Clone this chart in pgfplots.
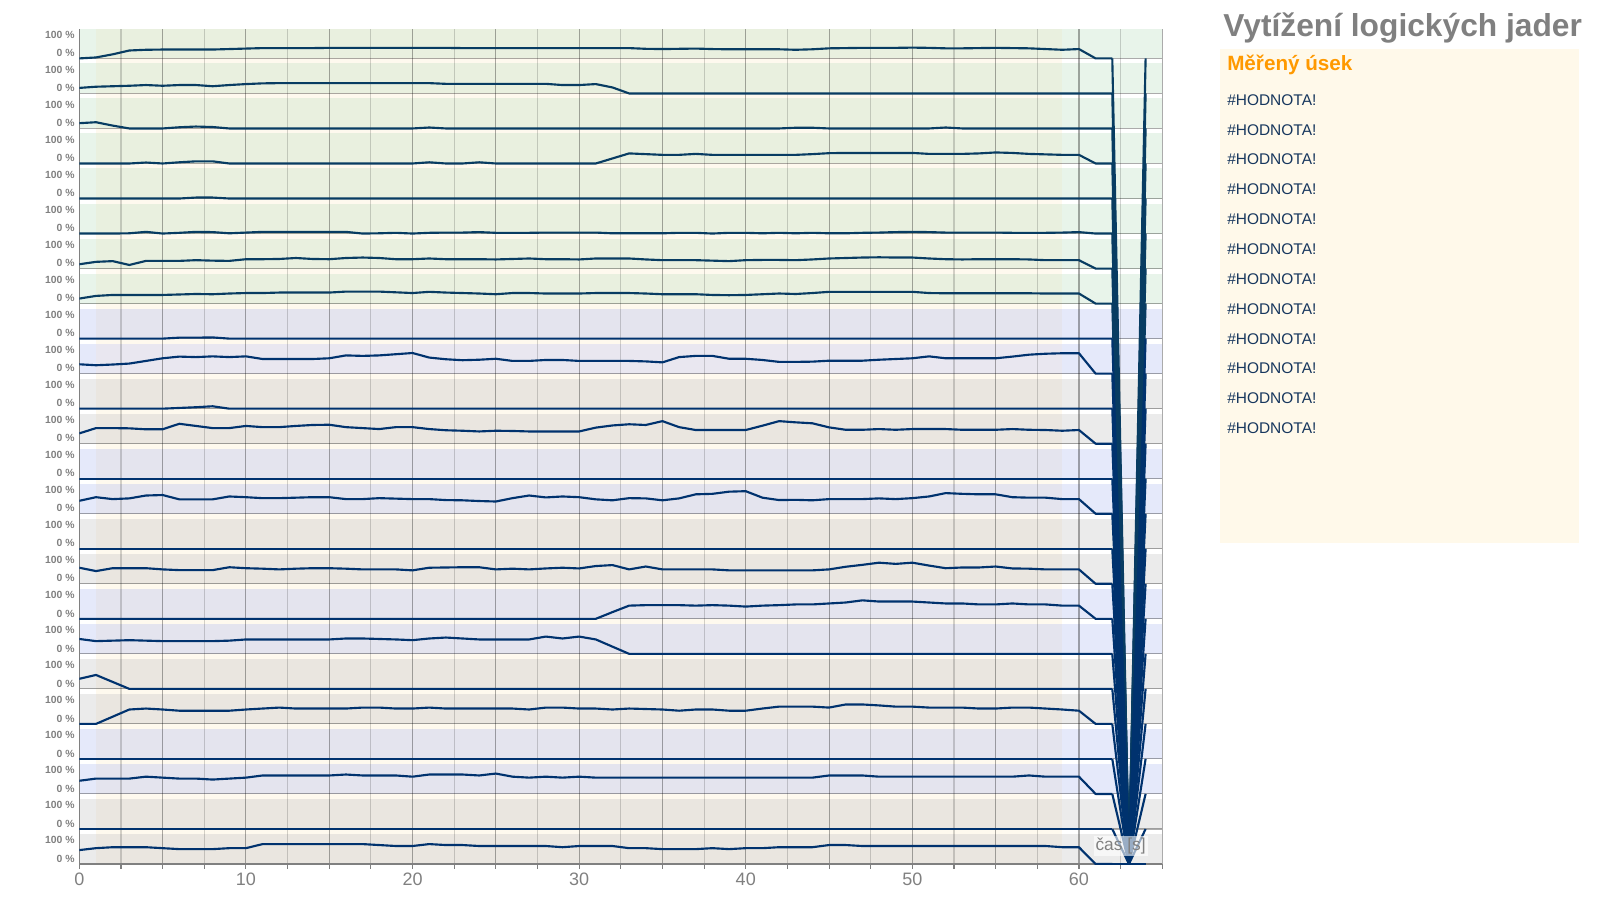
\documentclass[border=0pt]{standalone}
\usepackage{pgfplots}
\pgfplotsset{compat=1.18}
\usepackage{fontspec}
\setmainfont{Liberation Sans}
\definecolor{lnA}{RGB}{8,60,98}
\definecolor{lnB}{RGB}{0,50,110}
\definecolor{bgG}{RGB}{233,240,223}
\definecolor{bgGe}{RGB}{232,244,234}
\definecolor{bgL}{RGB}{228,228,238}
\definecolor{bgLtwo}{RGB}{233,231,240}
\definecolor{bgLe}{RGB}{229,233,250}
\definecolor{bgB}{RGB}{234,230,224}
\definecolor{bgBe}{RGB}{235,235,235}
\definecolor{strip}{RGB}{254,249,238}
\definecolor{txtgray}{RGB}{128,128,128}
\definecolor{boxbg}{RGB}{255,249,234}
\definecolor{orng}{RGB}{255,153,0}
\definecolor{navy}{RGB}{23,55,94}
% dense series: one value per second, 0..62
\newcommand{\cpu}[3]{%
  \addplot[#2, line width=1.6pt, line join=round]
    table[x expr=\coordindex, y expr={#1+0.00685*\thisrow{v}}, row sep=\\]{v\\#3\\};
  \addplot[#2, line width=1.6pt, line join=round] coordinates {(62,#1) (63,0) (64,#1)};
}
% sparse series given as (time, percent)
\newcommand{\cpuc}[3]{%
  \addplot[#2, line width=1.6pt, line join=round, y filter/.expression={#1+0.00685*y}] coordinates {#3};
  \addplot[#2, line width=1.6pt, line join=round] coordinates {(62,#1) (63,0) (64,#1)};
}
\begin{document}
\begin{tikzpicture}
\begin{axis}[
  at={(59.5pt,24.75pt)}, anchor=south west,
  scale only axis, width=812.2pt, height=626.25pt,
  set layers,
  xmin=0, xmax=65, ymin=0, ymax=23.84,
  axis x line*=bottom, axis y line*=left,
  axis line style={draw=txtgray, line width=0.9pt, -},
  xtick={0,5,...,65}, xticklabels={0,,10,,20,,30,,40,,50,,60,},
  minor xtick={2.5,7.5,...,62.5},
  xmajorgrids, xminorgrids,
  tick align=outside, major tick length=3.5pt, minor tick length=3.5pt,
  tick style={draw=txtgray, line width=0.8pt},
  ytick={0,...,23}, yticklabels={}, ymajorgrids,
  ytick style={draw=none},
  extra y ticks={0.154,0.685,1.154,1.685,2.154,2.685,3.154,3.685,4.154,4.685,5.154,5.685,6.154,6.685,7.154,7.685,8.154,8.685,9.154,9.685,10.154,10.685,11.154,11.685,12.154,12.685,13.154,13.685,14.154,14.685,15.154,15.685,16.154,16.685,17.154,17.685,18.154,18.685,19.154,19.685,20.154,20.685,21.154,21.685,22.154,22.685,23.154,23.685},
  extra y tick labels={0 \%,100 \%,0 \%,100 \%,0 \%,100 \%,0 \%,100 \%,0 \%,100 \%,0 \%,100 \%,0 \%,100 \%,0 \%,100 \%,0 \%,100 \%,0 \%,100 \%,0 \%,100 \%,0 \%,100 \%,0 \%,100 \%,0 \%,100 \%,0 \%,100 \%,0 \%,100 \%,0 \%,100 \%,0 \%,100 \%,0 \%,100 \%,0 \%,100 \%,0 \%,100 \%,0 \%,100 \%,0 \%,100 \%,0 \%,100 \%},
  extra y tick style={grid=none, major tick length=0pt},
  major grid style={draw=black, opacity=0.33, line width=0.8pt},
  minor grid style={draw=black, opacity=0.17, line width=0.8pt},
  xticklabel style={font=\fontsize{13.5}{14}\selectfont, text=txtgray},
  yticklabel style={font=\bfseries\fontsize{7.8}{8}\selectfont, text=txtgray},
]
\begin{pgfonlayer}{axis background}
  \fill[bgG] (axis cs:1,16) rectangle (axis cs:59,23.84);
  \fill[bgGe] (axis cs:0,16) rectangle (axis cs:1,23.84);
  \fill[bgGe] (axis cs:59,16) rectangle (axis cs:65,23.84);
  \pgfplotsinvokeforeach{14,10,6,2}{
    \fill[bgL] (axis cs:1,#1) rectangle (axis cs:59,{#1+2});
    \fill[bgLe] (axis cs:0,#1) rectangle (axis cs:1,{#1+2});
    \fill[bgLe] (axis cs:59,#1) rectangle (axis cs:65,{#1+2});
  }
  \pgfplotsinvokeforeach{12,8,4,0}{
    \fill[bgB] (axis cs:1,#1) rectangle (axis cs:59,{#1+2});
    \fill[bgBe] (axis cs:0,#1) rectangle (axis cs:1,{#1+2});
    \fill[bgBe] (axis cs:59,#1) rectangle (axis cs:65,{#1+2});
  }
  \fill[bgLtwo] (axis cs:1,14) rectangle (axis cs:59,14.857);
  \pgfplotsinvokeforeach{0,...,22}{
    \fill[strip] (axis cs:1,{#1+0.857}) rectangle (axis cs:59,{#1+1});
    \fill[white] (axis cs:0,{#1+0.857}) rectangle (axis cs:1,{#1+1});
    \fill[white] (axis cs:59,{#1+0.857}) rectangle (axis cs:65,{#1+1});
  }
\end{pgfonlayer}
% row 1
\cpu{23}{lnA}{0\\4\\17\\33\\36\\37\\37\\37\\37\\39\\41\\43\\43\\43\\43\\44\\44\\44\\44\\44\\44\\44\\44\\43\\43\\43\\43\\43\\43\\43\\43\\43\\43\\43\\40\\39\\40\\41\\39\\38\\38\\38\\38\\36\\38\\42\\43\\44\\44\\44\\45\\44\\42\\42\\43\\44\\43\\42\\39\\36\\39\\0\\0}
% row 2
\cpuc{22}{lnA}{(0,23) (1,28) (2,30) (3,32) (4,35) (5,32) (6,35) (7,35) (8,30) (9,35) (10,39) (11,42) (12,43) (21,43) (22,40) (28,40) (29,35) (30,35) (31,39) (32,25) (33,0) (62,0)}
% row 3
\cpuc{21}{lnA}{(0,22) (1,26) (2,12) (3,0) (5,0) (6,5) (7,8) (8,6) (9,0) (20,0) (21,4) (22,0) (42,0) (43,3) (44,3) (45,0) (51,0) (52,4) (53,0) (62,0)}
% row 4
\cpuc{20}{lnA}{(0,0) (3,0) (4,4) (5,0) (6,5) (7,9) (8,9) (9,0) (20,0) (21,5) (22,0) (23,0) (24,5) (25,0) (31,0) (32,21) (33,42) (34,39) (35,36) (36,36) (37,40) (38,36) (43,36) (44,39) (45,43) (46,44) (50,44) (51,40) (53,40) (54,42) (55,46) (56,44) (57,40) (58,38) (59,36) (60,36) (61,0) (62,0)}
% row 5
\cpuc{19}{lnA}{(0,0) (6,0) (7,4) (8,4) (9,0) (62,0)}
% row 6
\cpu{18}{lnA}{0\\0\\0\\1\\7\\0\\3\\7\\6\\1\\4\\7\\7\\7\\7\\7\\7\\0\\1\\3\\0\\3\\4\\4\\6\\3\\3\\3\\4\\4\\4\\4\\1\\1\\1\\1\\3\\3\\0\\3\\3\\1\\3\\1\\3\\1\\1\\3\\4\\6\\7\\6\\4\\4\\4\\4\\3\\3\\3\\4\\6\\0\\0}
% row 7
\cpu{17}{lnA}{18\\28\\31\\15\\32\\32\\32\\35\\33\\32\\39\\39\\40\\44\\40\\39\\44\\46\\44\\39\\39\\42\\39\\39\\39\\38\\40\\42\\39\\39\\38\\42\\42\\42\\38\\35\\35\\35\\33\\31\\35\\36\\36\\35\\38\\42\\44\\46\\47\\46\\46\\42\\39\\38\\39\\39\\39\\38\\35\\35\\35\\0\\0}
% row 8
\cpu{16}{lnA}{21\\32\\36\\36\\36\\36\\38\\40\\39\\42\\44\\44\\46\\46\\46\\46\\50\\50\\50\\47\\44\\49\\46\\44\\42\\39\\44\\44\\42\\42\\42\\44\\44\\44\\42\\39\\39\\39\\36\\35\\36\\39\\42\\40\\44\\49\\49\\49\\49\\49\\49\\44\\43\\43\\43\\43\\43\\43\\42\\42\\42\\0\\0}
% row 9
\cpuc{15}{lnB}{(0,0) (5,0) (6,4) (7,4) (8,5) (9,0) (62,0)}
% row 10
\cpu{14}{lnB}{39\\35\\38\\42\\53\\64\\71\\69\\72\\69\\72\\61\\61\\61\\61\\64\\76\\74\\76\\81\\86\\67\\60\\56\\58\\62\\53\\53\\57\\57\\53\\53\\53\\53\\51\\47\\69\\74\\74\\62\\62\\57\\49\\49\\50\\54\\54\\54\\58\\61\\64\\72\\64\\64\\64\\64\\71\\79\\83\\85\\85\\0\\0}
% row 11
\cpuc{13}{lnB}{(0,0) (5,0) (6,3) (7,6) (8,10) (9,0) (62,0)}
% row 12
\cpu{12}{lnB}{43\\65\\65\\64\\60\\60\\83\\74\\65\\65\\74\\69\\69\\74\\78\\79\\69\\65\\61\\69\\69\\61\\56\\54\\51\\54\\53\\51\\51\\51\\51\\67\\76\\81\\78\\94\\69\\57\\57\\57\\57\\75\\94\\89\\85\\68\\58\\58\\61\\58\\61\\61\\61\\58\\58\\58\\61\\58\\57\\54\\57\\0\\0}
% row 13
\cpuc{11}{lnB}{(0,0) (62,0)}
% row 14
\cpu{10}{lnB}{54\\69\\61\\64\\76\\78\\60\\60\\60\\72\\69\\65\\65\\67\\69\\69\\61\\61\\65\\63\\61\\61\\57\\56\\53\\51\\65\\76\\68\\72\\69\\60\\56\\65\\64\\56\\64\\81\\83\\92\\94\\67\\57\\58\\56\\61\\61\\61\\64\\61\\65\\72\\86\\83\\81\\81\\69\\67\\67\\61\\61\\0\\0}
% row 15
\cpuc{9}{lnB}{(0,0) (62,0)}
% row 16
\cpu{8}{lnB}{67\\53\\65\\65\\65\\60\\57\\57\\57\\69\\65\\63\\60\\63\\65\\65\\63\\60\\60\\60\\56\\67\\68\\69\\69\\60\\63\\60\\64\\67\\64\\74\\78\\60\\72\\60\\60\\60\\60\\56\\56\\56\\56\\56\\56\\60\\71\\79\\88\\83\\88\\76\\65\\68\\68\\72\\64\\63\\60\\60\\60\\0\\0}
% row 17
\cpuc{7}{lnB}{(0,0) (31,0) (32,28) (33,55) (34,57) (35,57) (36,57) (37,55) (38,57) (39,55) (40,51) (41,55) (42,57) (43,60) (44,60) (45,64) (46,68) (47,77) (48,72) (49,72) (50,72) (51,68) (52,64) (53,64) (54,60) (55,60) (56,64) (57,60) (58,60) (59,55) (60,55) (61,0) (62,0)}
% row 18
\cpuc{6}{lnB}{(0,62) (1,53) (2,55) (3,57) (4,55) (5,53) (6,53) (7,53) (8,53) (9,55) (10,60) (11,60) (12,60) (13,60) (14,60) (15,60) (16,64) (17,64) (18,62) (19,60) (20,57) (21,64) (22,68) (23,64) (24,60) (25,60) (26,60) (27,60) (28,72) (29,64) (30,72) (31,60) (32,30) (33,0) (62,0)}
% row 19
\cpuc{5}{lnB}{(0,42) (1,58) (2,29) (3,0) (62,0)}
% row 20
\cpu{4}{lnB}{0\\0\\30\\60\\64\\60\\55\\55\\55\\55\\60\\64\\68\\64\\64\\64\\64\\68\\68\\64\\64\\68\\64\\64\\64\\64\\64\\60\\68\\68\\64\\64\\60\\64\\62\\60\\55\\60\\60\\55\\55\\64\\72\\72\\72\\68\\81\\81\\77\\72\\72\\68\\68\\68\\64\\64\\68\\68\\64\\60\\55\\0\\0}
% row 21
\cpuc{3}{lnB}{(0,0) (62,0)}
% row 22
\cpu{2}{lnB}{55\\64\\64\\64\\72\\68\\64\\64\\60\\64\\68\\77\\77\\77\\77\\77\\81\\77\\77\\77\\72\\81\\81\\81\\77\\85\\72\\68\\72\\68\\72\\68\\68\\68\\68\\68\\68\\68\\68\\68\\68\\68\\68\\68\\68\\77\\77\\77\\72\\72\\72\\72\\72\\72\\72\\72\\72\\77\\72\\72\\72\\0\\0}
% row 23
\cpuc{1}{lnB}{(0,0) (62,0)}
% row 24
\cpu{0}{lnB}{58\\66\\70\\70\\70\\66\\62\\62\\62\\66\\66\\83\\83\\83\\83\\83\\83\\83\\79\\75\\75\\83\\79\\79\\75\\75\\75\\75\\75\\70\\75\\75\\75\\66\\66\\62\\62\\62\\66\\62\\66\\66\\70\\70\\70\\79\\79\\75\\75\\75\\75\\75\\75\\75\\75\\75\\75\\75\\75\\70\\70\\0\\0}
\node[fill=white, fill opacity=0.6, text opacity=1, text=txtgray, font=\fontsize{13}{15}\selectfont, inner sep=1.5pt] at (axis cs:62.5,0.52) {čas [s]};
\end{axis}
% right panel
\fill[boxbg] (915pt,265.5pt) rectangle (1184.25pt,636pt);
\node[text=txtgray, font=\bfseries\fontsize{23.8}{28}\selectfont, inner sep=0pt] at (1052pt,652pt) {Vytížení logických jader};
\node[anchor=west, text=orng, font=\bfseries\fontsize{15.5}{18}\selectfont, inner sep=0pt] at (920.25pt,623.8pt) {Měřený úsek};
\foreach \i in {0,...,11}
  \node[anchor=west, text=navy, font=\fontsize{11.6}{14}\selectfont, inner sep=0pt] at (920.25pt,{597.8pt-\i*22.39pt}) {\#HODNOTA!};
\pgfresetboundingbox
\path[use as bounding box] (0,0) rectangle (1199.25pt,672.75pt);
\end{tikzpicture}
\end{document}
